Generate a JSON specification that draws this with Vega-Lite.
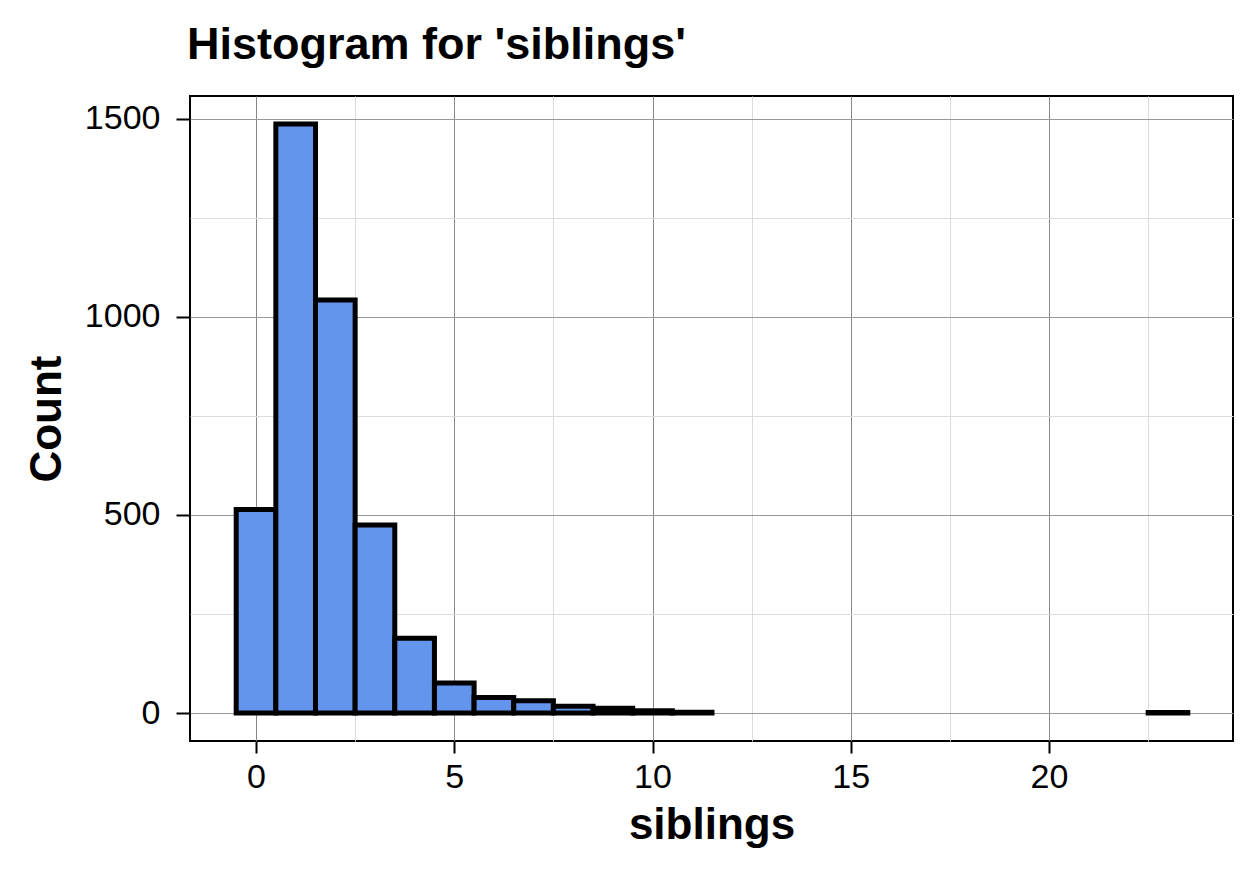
{
  "$schema": "https://vega.github.io/schema/vega-lite/v6.json",
  "autosize": "none",
  "padding": {"left": 190, "top": 96, "right": 26, "bottom": 140},
  "width": 1043,
  "height": 645,
  "background": "white",
  "title": {
    "text": "Histogram for 'siblings'",
    "anchor": "start",
    "frame": "group",
    "font": "Liberation Sans",
    "fontSize": 45,
    "fontWeight": "bold",
    "color": "black",
    "baseline": "alphabetic",
    "offset": -8,
    "dx": -3
  },
  "config": {
    "view": {"stroke": "black", "strokeWidth": 2},
    "axis": {
      "labelFont": "Liberation Sans",
      "titleFont": "Liberation Sans",
      "labelColor": "black",
      "titleColor": "black",
      "labelFontSize": 34,
      "titleFontSize": 44,
      "titleFontWeight": "bold",
      "domain": false,
      "tickColor": "black",
      "tickWidth": 2,
      "gridWidth": 1
    }
  },
  "data": {
    "values": [
      {"bin_start": -0.5, "bin_end": 0.5, "count": 514},
      {"bin_start": 0.5, "bin_end": 1.5, "count": 1487},
      {"bin_start": 1.5, "bin_end": 2.5, "count": 1043},
      {"bin_start": 2.5, "bin_end": 3.5, "count": 475},
      {"bin_start": 3.5, "bin_end": 4.5, "count": 189},
      {"bin_start": 4.5, "bin_end": 5.5, "count": 76},
      {"bin_start": 5.5, "bin_end": 6.5, "count": 39},
      {"bin_start": 6.5, "bin_end": 7.5, "count": 31},
      {"bin_start": 7.5, "bin_end": 8.5, "count": 17},
      {"bin_start": 8.5, "bin_end": 9.5, "count": 12},
      {"bin_start": 9.5, "bin_end": 10.5, "count": 6},
      {"bin_start": 10.5, "bin_end": 11.5, "count": 2},
      {"bin_start": 22.5, "bin_end": 23.5, "count": 1}
    ]
  },
  "mark": {"type": "rect", "fill": "#6495ED", "stroke": "black", "strokeWidth": 5},
  "encoding": {
    "x": {
      "field": "bin_start",
      "type": "quantitative",
      "scale": {"domain": [-1.665, 24.64], "nice": false, "zero": false},
      "axis": {
        "title": "siblings",
        "values": [0, 2.5, 5, 7.5, 10, 12.5, 15, 17.5, 20, 22.5],
        "labelExpr": "datum.value % 5 === 0 ? datum.label : ''",
        "tickOpacity": {"condition": {"test": "datum.value % 5 === 0", "value": 1}, "value": 0},
        "gridColor": {"condition": {"test": "datum.value % 5 === 0", "value": "#888888"}, "value": "#dcdcdc"},
        "tickSize": 12,
        "labelPadding": 7,
        "titleBaseline": "alphabetic",
        "titleY": 97,
        "titleX": 521.5
      }
    },
    "x2": {"field": "bin_end"},
    "y": {
      "field": "count",
      "type": "quantitative",
      "scale": {"domain": [-70.7, 1558], "nice": false, "zero": false},
      "axis": {
        "title": "Count",
        "values": [0, 250, 500, 750, 1000, 1250, 1500],
        "labelExpr": "datum.value % 500 === 0 ? datum.label : ''",
        "format": "d",
        "tickOpacity": {"condition": {"test": "datum.value % 500 === 0", "value": 1}, "value": 0},
        "gridColor": {"condition": {"test": "datum.value % 500 === 0", "value": "#999999"}, "value": "#dcdcdc"},
        "tickSize": 14,
        "labelPadding": 16,
        "titleBaseline": "alphabetic",
        "titleAngle": -90,
        "titleX": -130,
        "titleY": 322.5
      }
    },
    "y2": {"datum": 0}
  }
}
